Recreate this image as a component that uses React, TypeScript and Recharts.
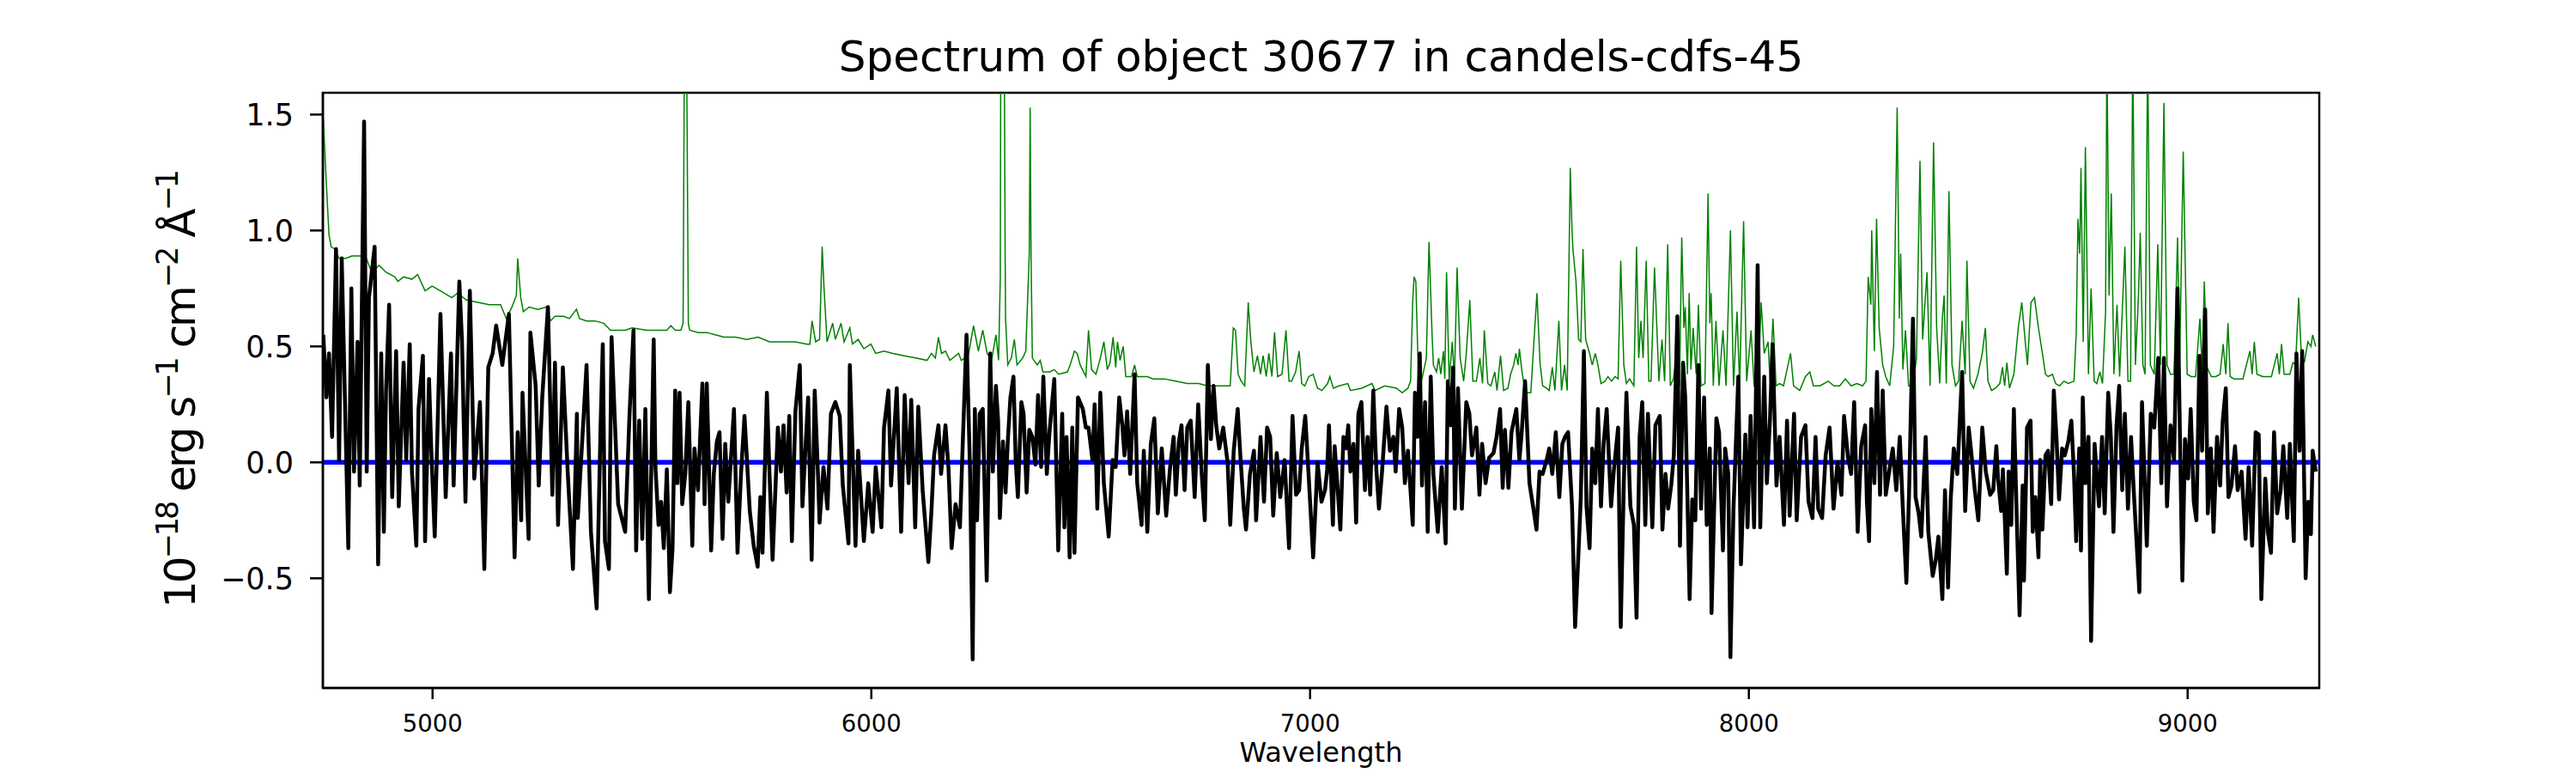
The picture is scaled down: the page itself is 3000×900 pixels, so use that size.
import { LineChart, Line, XAxis, YAxis, ReferenceArea } from "recharts";

type Pt = [number, number];

const FONT = "DejaVu Sans";
const X_MIN = 4750;
const X_MAX = 9300;
const Y_MIN = -0.973;
const Y_MAX = 1.594;
const xTicks = [5000, 6000, 7000, 8000, 9000];
const yTicks = [-0.5, 0, 0.5, 1.0, 1.5];
const zeroLevel = 0;

// object flux (black), wavelength in Å, flux in 1e-18 erg/s/cm2/Å
const fluxA: Pt[] = [
  [4751, 0.55], [4758, 0.28], [4764, 0.47], [4771, 0.11], [4780, 0.92], [4787, 0.01], [4793, 0.88], [4803, 0.05],
  [4808, -0.37], [4815, 0.75], [4821, -0.04], [4829, 0.52], [4834, -0.1], [4839, 0.7], [4844, 1.47], [4850, -0.04],
  [4855, 0.71], [4868, 0.93], [4876, -0.44], [4883, 0.47], [4889, -0.3], [4894, 0.31], [4901, 0.68], [4908, -0.15],
  [4917, 0.48], [4923, -0.19], [4934, 0.43], [4940, 0.01], [4948, 0.51], [4953, -0.04], [4963, -0.36], [4968, 0.23],
  [4978, 0.46], [4983, -0.34], [4992, 0.36], [4997, 0.06], [5005, -0.32], [5018, 0.64], [5030, -0.15], [5042, 0.47],
  [5048, -0.1], [5061, 0.78], [5067, 0.53], [5075, -0.17], [5085, 0.74], [5095, -0.07], [5108, 0.26], [5118, -0.46],
  [5127, 0.41], [5137, 0.47], [5145, 0.59], [5159, 0.42], [5174, 0.64], [5187, -0.41], [5194, 0.13], [5202, -0.25],
  [5205, 0.3], [5219, -0.33], [5223, 0.56], [5235, 0.33], [5242, -0.1], [5250, 0.28], [5263, 0.67], [5273, -0.14],
  [5279, 0.43], [5286, -0.27], [5297, 0.41], [5308, -0.04], [5320, -0.46], [5329, 0.21], [5331, -0.24], [5351, 0.42],
  [5361, -0.3], [5374, -0.63], [5383, 0.16], [5388, 0.51], [5393, -0.34], [5402, -0.46], [5408, 0.54], [5423, -0.18],
  [5439, -0.3], [5449, 0.21], [5458, 0.57], [5464, -0.38], [5471, 0.18], [5478, -0.33], [5485, 0.23], [5493, -0.59],
  [5504, 0.53],
];

const fluxB: Pt[] = [
  [5508, -0.02], [5515, -0.27], [5521, -0.17], [5527, -0.37], [5534, -0.03], [5541, -0.56], [5547, -0.37], [5553, 0.31],
  [5558, -0.09], [5563, 0.3], [5569, -0.18], [5576, -0.05], [5583, 0.26], [5592, -0.36], [5597, 0.06], [5605, -0.12],
  [5615, 0.34], [5620, -0.18], [5625, 0.34], [5635, -0.38], [5641, -0.05], [5648, 0.09], [5654, 0.13], [5661, -0.33],
  [5667, 0.08], [5674, -0.17], [5687, 0.23], [5695, -0.39], [5703, -0.05], [5711, 0.2], [5723, -0.21], [5732, -0.36],
  [5741, -0.45], [5747, -0.15], [5752, -0.39], [5762, 0.3], [5768, -0.05], [5775, -0.42], [5787, 0.15], [5794, -0.04],
  [5800, 0.16], [5807, -0.13], [5813, 0.2], [5819, -0.34], [5827, 0.22], [5837, 0.42], [5843, -0.19], [5856, 0.28],
  [5864, -0.42], [5871, 0.31], [5879, -0.08], [5882, -0.26], [5891, -0.02], [5900, -0.2], [5908, 0.21], [5918, 0.26],
  [5928, 0.2], [5935, -0.1], [5948, -0.35], [5951, 0.42], [5964, -0.36], [5970, 0.05], [5983, -0.34], [5993, -0.09],
  [6003, -0.3], [6010, -0.02], [6023, -0.28], [6029, 0.15], [6039, 0.31], [6045, -0.1], [6058, 0.32], [6068, -0.3],
  [6076, 0.29], [6085, -0.09], [6091, 0.27], [6100, -0.28], [6107, 0.24], [6117, -0.12], [6130, -0.43], [6137, -0.21],
  [6143, 0.03], [6153, 0.16], [6159, -0.05], [6169, 0.16], [6176, -0.03], [6183, -0.37], [6192, -0.18], [6202, -0.28],
  [6208, 0.06], [6217, 0.55], [6225, -0.04], [6231, -0.85], [6236, 0.23], [6241, -0.25], [6247, 0.21], [6254, 0.23],
  [6263, -0.51],
];

const fluxC: Pt[] = [
  [6271, 0.47], [6277, -0.04], [6284, 0.33], [6289, 0.18], [6293, -0.24], [6300, 0.09], [6306, -0.13], [6311, 0.09],
  [6317, 0.28], [6324, 0.37], [6329, 0.01], [6334, -0.15], [6342, 0.26], [6347, 0.21], [6354, -0.13], [6360, 0.14],
  [6367, 0.11], [6374, -0.01], [6380, 0.29], [6387, -0.02], [6392, 0.37], [6400, -0.05], [6406, 0.13], [6417, 0.36],
  [6426, -0.38], [6435, 0.21], [6440, -0.28], [6445, 0.11], [6452, -0.41], [6458, 0.15], [6463, -0.39], [6471, 0.28],
  [6482, 0.23], [6489, 0.15], [6495, 0.15], [6504, 0.01], [6509, 0.25], [6515, -0.2], [6522, 0.3], [6530, -0.09],
  [6541, -0.32], [6550, 0.01], [6557, -0.02], [6565, 0.28], [6572, 0.16], [6577, 0.03], [6583, 0.22], [6590, -0.05],
  [6600, 0.38], [6606, -0.09], [6616, -0.27], [6621, 0.05], [6629, -0.3], [6637, 0.08], [6645, 0.19], [6653, -0.22],
  [6662, 0.06], [6672, -0.23], [6681, -0.02], [6689, 0.11], [6694, -0.14], [6701, 0.09], [6707, 0.16], [6714, -0.12],
  [6720, 0.15], [6728, 0.18], [6737, -0.15], [6745, 0.25], [6753, -0.05], [6760, -0.25], [6767, 0.42], [6774, 0.1],
  [6780, 0.33], [6786, 0.16], [6793, 0.06], [6802, 0.15], [6812, 0.0], [6818, -0.27], [6826, 0.05], [6835, 0.23],
  [6841, 0.03], [6849, -0.2], [6854, -0.29], [6863, -0.05], [6872, 0.05], [6877, -0.25], [6887, 0.11], [6895, -0.17],
  [6902, 0.15], [6909, 0.11], [6916, -0.23], [6924, 0.04], [6932, -0.15], [6942, 0.01], [6952, -0.37], [6960, 0.2],
  [6968, -0.14], [6975, -0.12], [6981, 0.06], [6989, 0.2], [6998, -0.1], [7007, -0.41], [7017, 0.0], [7026, -0.17],
];

const fluxD: Pt[] = [
  [7034, -0.12], [7039, -0.03], [7043, 0.16], [7052, -0.27], [7056, 0.07], [7063, -0.12], [7069, -0.29], [7076, 0.11],
  [7082, 0.06], [7087, 0.16], [7092, -0.04], [7099, 0.08], [7105, -0.26], [7110, 0.21], [7117, 0.26], [7125, -0.12],
  [7131, 0.11], [7137, -0.14], [7144, 0.31], [7151, -0.03], [7157, -0.2], [7164, -0.04], [7174, 0.24], [7182, 0.05],
  [7190, 0.11], [7195, -0.04], [7203, 0.23], [7210, 0.15], [7216, -0.09], [7223, 0.05], [7234, -0.27], [7239, 0.3],
  [7245, 0.11], [7250, 0.47], [7255, -0.1], [7262, 0.26], [7268, -0.3], [7275, 0.37], [7281, -0.05], [7291, -0.3],
  [7300, -0.02], [7309, -0.35], [7314, 0.35], [7320, 0.16], [7326, 0.41], [7330, -0.2], [7337, 0.32], [7346, -0.2],
  [7356, 0.26], [7363, 0.21], [7369, 0.03], [7379, 0.15], [7386, -0.14], [7392, 0.08], [7400, -0.09], [7408, 0.02],
  [7418, 0.04], [7425, 0.11], [7433, 0.23], [7439, -0.11], [7444, 0.14], [7452, -0.11], [7459, 0.13], [7470, 0.23],
  [7477, 0.01], [7482, 0.12], [7490, 0.35], [7500, -0.09], [7509, -0.2], [7516, -0.29], [7523, -0.04], [7530, -0.05],
  [7539, 0.01], [7545, 0.06], [7552, -0.05], [7560, 0.13], [7568, -0.15], [7575, 0.08], [7581, 0.11], [7588, 0.13],
  [7597, -0.19], [7604, -0.71], [7611, -0.42], [7617, -0.15], [7624, 0.48], [7630, -0.19], [7637, -0.37], [7643, 0.06],
  [7650, -0.09], [7656, 0.23], [7663, -0.19], [7669, 0.08], [7676, 0.23], [7686, -0.19], [7692, -0.04], [7702, 0.15],
  [7708, -0.71], [7715, -0.09], [7721, 0.3], [7730, -0.19], [7738, -0.27], [7744, -0.67], [7751, 0.11], [7757, 0.26],
  [7764, -0.27], [7770, 0.21], [7780, -0.28], [7787, 0.16],
];

const fluxE: Pt[] = [
  [7797, 0.2], [7803, -0.29], [7810, -0.05], [7816, -0.2], [7823, -0.1], [7829, 0.03], [7837, 0.63], [7843, -0.36],
  [7850, 0.43], [7855, 0.28], [7865, -0.59], [7871, -0.16], [7878, -0.25], [7885, 0.42], [7891, -0.2], [7898, 0.28],
  [7904, -0.27], [7911, 0.06], [7915, -0.65], [7926, 0.19], [7932, 0.13], [7941, -0.38], [7946, 0.06], [7953, -0.05],
  [7958, -0.84], [7965, -0.2], [7976, 0.37], [7982, -0.44], [7992, 0.12], [7997, -0.28], [8004, 0.2], [8012, -0.28],
  [8020, 0.85], [8026, -0.28], [8035, 0.37], [8041, -0.09], [8048, 0.18], [8054, 0.51], [8063, -0.1], [8070, 0.11],
  [8080, -0.27], [8087, 0.18], [8093, -0.23], [8103, 0.21], [8109, -0.25], [8119, 0.11], [8129, 0.16], [8136, -0.17],
  [8145, -0.24], [8152, 0.11], [8158, -0.2], [8167, -0.24], [8175, 0.03], [8184, 0.15], [8193, -0.2], [8202, 0.0],
  [8211, -0.14], [8217, 0.2], [8226, 0.02], [8233, -0.05], [8240, 0.26], [8248, -0.3], [8256, 0.07], [8265, 0.16],
  [8269, -0.17], [8274, -0.34], [8279, 0.23], [8286, -0.09], [8292, 0.39], [8299, -0.14], [8305, 0.31], [8312, -0.14],
  [8319, -0.05], [8328, 0.06], [8336, -0.12], [8344, 0.11], [8351, -0.2], [8359, -0.52], [8365, -0.14], [8374, 0.62],
  [8380, -0.15], [8387, -0.22], [8393, -0.32], [8403, 0.11], [8409, -0.3], [8419, -0.49], [8426, -0.42], [8432, -0.32],
  [8441, -0.59], [8447, -0.12], [8454, -0.54], [8460, -0.16], [8467, 0.06], [8475, -0.05], [8486, 0.39], [8493, -0.21],
  [8501, 0.15], [8507, 0.04], [8515, -0.12], [8523, -0.25], [8532, 0.15], [8540, -0.04], [8550, -0.14],
];

const fluxF: Pt[] = [
  [8557, -0.12], [8564, 0.07], [8568, -0.07], [8575, -0.21], [8579, -0.03], [8588, -0.48], [8592, -0.04], [8598, -0.27],
  [8604, 0.23], [8611, -0.27], [8617, -0.66], [8624, -0.1], [8627, -0.51], [8634, 0.15], [8642, 0.18], [8647, -0.3],
  [8653, -0.15], [8660, -0.41], [8664, 0.01], [8669, -0.29], [8676, 0.03], [8682, 0.05], [8689, -0.18], [8695, 0.31],
  [8701, 0.11], [8707, -0.16], [8714, 0.06], [8720, 0.03], [8728, 0.09], [8735, 0.18], [8741, -0.05], [8746, -0.34],
  [8753, 0.06], [8757, -0.38], [8761, 0.28], [8767, -0.09], [8774, 0.11], [8780, -0.77], [8788, 0.08], [8798, -0.19],
  [8805, 0.11], [8811, -0.22], [8819, 0.3], [8825, 0.11], [8831, -0.3], [8838, 0.16], [8844, 0.33], [8851, -0.12],
  [8857, 0.21], [8864, -0.2], [8871, 0.11], [8878, -0.15], [8890, -0.56], [8896, 0.26], [8907, -0.36], [8916, 0.21],
  [8924, 0.15], [8933, 0.45], [8940, -0.09], [8946, 0.45], [8953, -0.19], [8961, 0.16], [8969, 0.01], [8977, 0.75],
  [8988, -0.51], [8994, 0.1], [9001, -0.07], [9007, 0.23], [9014, -0.17], [9020, -0.25], [9027, 0.46], [9033, 0.05],
  [9040, 0.66], [9046, -0.22], [9053, 0.06], [9059, -0.3], [9067, 0.11], [9074, -0.1], [9080, 0.18], [9087, 0.32],
  [9093, -0.15], [9100, -0.1], [9108, 0.07], [9114, -0.12], [9123, -0.04], [9132, -0.33], [9139, -0.02], [9147, -0.36],
  [9155, 0.13], [9162, 0.12], [9168, -0.59], [9177, -0.07], [9183, -0.3], [9190, -0.39], [9197, 0.13], [9204, -0.22],
  [9212, -0.12], [9218, 0.07], [9227, -0.24], [9233, 0.08], [9242, -0.34], [9248, 0.47], [9255, 0.05], [9261, 0.48],
  [9269, -0.5], [9275, -0.17], [9281, -0.31], [9285, 0.05], [9292, -0.04],
];

// noise / sky spectrum (green)
const skyA: Pt[] = [
  [4751, 1.48], [4758, 1.2], [4764, 0.98], [4769, 0.93], [4777, 0.92], [4787, 0.88], [4803, 0.88], [4816, 0.89],
  [4836, 0.89], [4849, 0.88], [4859, 0.83], [4868, 0.83], [4878, 0.85], [4894, 0.82], [4914, 0.8], [4921, 0.78],
  [4934, 0.8], [4953, 0.79], [4966, 0.81], [4983, 0.74], [4999, 0.76], [5018, 0.74], [5044, 0.71], [5057, 0.73],
  [5077, 0.7], [5103, 0.69], [5129, 0.68], [5155, 0.68], [5168, 0.62], [5181, 0.67], [5191, 0.72], [5194, 0.88],
  [5201, 0.71], [5207, 0.65], [5220, 0.67], [5240, 0.66], [5260, 0.67], [5269, 0.61], [5279, 0.63], [5299, 0.63],
  [5312, 0.62], [5328, 0.66], [5335, 0.62], [5351, 0.61], [5370, 0.61], [5390, 0.6], [5406, 0.57], [5423, 0.57],
  [5439, 0.57], [5455, 0.58], [5488, 0.57],
];

const skyB: Pt[] = [
  [5501, 0.57], [5521, 0.57], [5534, 0.57], [5543, 0.59], [5553, 0.57], [5566, 0.57], [5571, 0.6], [5574, 1.8],
  [5579, 1.8], [5583, 0.6], [5586, 0.57], [5605, 0.56], [5625, 0.56], [5644, 0.55], [5664, 0.54], [5690, 0.54],
  [5716, 0.53], [5742, 0.54], [5768, 0.52], [5794, 0.52], [5827, 0.52], [5853, 0.51], [5860, 0.51], [5865, 0.61],
  [5873, 0.52], [5882, 0.53], [5888, 0.93], [5892, 0.76], [5899, 0.52], [5912, 0.6], [5918, 0.53], [5931, 0.6],
  [5938, 0.52], [5951, 0.58], [5957, 0.51], [5970, 0.53], [5983, 0.49], [5999, 0.51], [6010, 0.47], [6029, 0.48],
  [6049, 0.47], [6075, 0.46], [6101, 0.45], [6127, 0.44], [6137, 0.47], [6146, 0.45], [6153, 0.54], [6160, 0.47],
  [6169, 0.48], [6179, 0.44], [6199, 0.47], [6205, 0.44], [6221, 0.46], [6233, 0.59], [6244, 0.48], [6254, 0.57],
  [6264, 0.47],
];

const skyC: Pt[] = [
  [6274, 0.44], [6284, 0.55], [6290, 0.44], [6294, 0.8], [6295, 1.8], [6303, 1.8], [6305, 0.9], [6306, 0.62],
  [6311, 0.42], [6319, 0.45], [6326, 0.53], [6332, 0.42], [6345, 0.45], [6352, 0.48], [6360, 0.9], [6362, 1.53],
  [6364, 0.9], [6367, 0.45], [6378, 0.42], [6385, 0.44], [6391, 0.39], [6407, 0.39], [6417, 0.4], [6427, 0.38],
  [6447, 0.39], [6453, 0.42], [6463, 0.48], [6469, 0.47], [6476, 0.42], [6489, 0.37], [6495, 0.57], [6502, 0.4],
  [6512, 0.38], [6522, 0.45], [6530, 0.52], [6538, 0.4], [6544, 0.43], [6551, 0.54], [6557, 0.41], [6561, 0.52],
  [6567, 0.44], [6574, 0.5], [6580, 0.37], [6593, 0.37], [6600, 0.42], [6606, 0.37], [6629, 0.37], [6642, 0.36],
  [6668, 0.36], [6694, 0.35], [6720, 0.34], [6746, 0.34], [6766, 0.33], [6786, 0.33], [6818, 0.33], [6825, 0.58],
  [6830, 0.57], [6836, 0.38], [6843, 0.35], [6851, 0.33], [6859, 0.69], [6865, 0.52], [6872, 0.39], [6880, 0.46],
  [6887, 0.38], [6893, 0.46], [6900, 0.37], [6906, 0.47], [6913, 0.37], [6919, 0.56], [6926, 0.37], [6936, 0.38],
  [6945, 0.57], [6952, 0.35], [6958, 0.35], [6967, 0.39], [6975, 0.48], [6981, 0.34], [6988, 0.33], [6997, 0.37],
  [7007, 0.38], [7017, 0.32], [7027, 0.31],
];

const skyD: Pt[] = [
  [7040, 0.34], [7045, 0.37], [7053, 0.32], [7066, 0.33], [7086, 0.34], [7092, 0.31], [7118, 0.32], [7141, 0.34],
  [7148, 0.31], [7170, 0.33], [7197, 0.32], [7210, 0.3], [7223, 0.32], [7229, 0.35], [7234, 0.7], [7237, 0.8],
  [7241, 0.78], [7245, 0.5], [7247, 0.35], [7255, 0.36], [7265, 0.45], [7271, 0.95], [7278, 0.55], [7281, 0.42],
  [7288, 0.39], [7293, 0.45], [7298, 0.38], [7304, 0.48], [7307, 0.36], [7311, 0.82], [7317, 0.35], [7324, 0.52],
  [7329, 0.36], [7335, 0.84], [7342, 0.45], [7350, 0.35], [7356, 0.47], [7364, 0.7], [7371, 0.35], [7379, 0.35],
  [7387, 0.45], [7393, 0.34], [7397, 0.57], [7405, 0.34], [7412, 0.33], [7421, 0.39], [7426, 0.31], [7434, 0.46],
  [7441, 0.31], [7451, 0.32], [7457, 0.38], [7464, 0.42], [7469, 0.47], [7474, 0.42], [7477, 0.49], [7483, 0.39],
  [7491, 0.3], [7503, 0.3], [7517, 0.73], [7524, 0.43], [7530, 0.33], [7539, 0.32], [7545, 0.31], [7552, 0.41],
  [7558, 0.31], [7567, 0.61], [7573, 0.31], [7580, 0.42], [7586, 0.31], [7593, 1.27], [7597, 1.0], [7599, 0.92],
  [7606, 0.78], [7612, 0.53], [7617, 0.52], [7622, 0.92], [7628, 0.53], [7637, 0.47], [7643, 0.42], [7650, 0.47],
  [7656, 0.42], [7663, 0.34], [7672, 0.35], [7679, 0.37], [7687, 0.35], [7695, 0.37], [7702, 0.36], [7708, 0.87],
  [7715, 0.42], [7721, 0.34], [7728, 0.36], [7738, 0.33], [7744, 0.93], [7749, 0.45], [7754, 0.61], [7759, 0.45],
  [7766, 0.87], [7772, 0.35], [7777, 0.35], [7785, 0.84],
];

const skyE: Pt[] = [
  [7795, 0.35], [7802, 0.53], [7808, 0.35], [7815, 0.94], [7821, 0.33], [7828, 0.36], [7836, 0.47], [7842, 0.33],
  [7847, 0.97], [7852, 0.58], [7855, 0.67], [7860, 0.38], [7864, 0.73], [7868, 0.4], [7873, 0.58], [7880, 0.38],
  [7885, 0.68], [7891, 0.33], [7900, 0.34], [7907, 1.16], [7911, 0.6], [7914, 0.73], [7919, 0.33], [7925, 0.61],
  [7932, 0.33], [7941, 0.57], [7948, 0.33], [7958, 1.0], [7965, 0.33], [7973, 0.65], [7979, 0.33], [7988, 1.04],
  [7995, 0.35], [8005, 0.57], [8012, 0.33], [8021, 0.33], [8028, 0.69], [8035, 0.47], [8044, 0.52], [8048, 0.35],
  [8055, 0.62], [8062, 0.33], [8070, 0.34], [8079, 0.33], [8087, 0.4], [8095, 0.47], [8102, 0.33], [8116, 0.31],
  [8129, 0.37], [8139, 0.39], [8147, 0.33], [8162, 0.33], [8181, 0.35], [8194, 0.33], [8207, 0.33], [8220, 0.36],
  [8233, 0.33], [8246, 0.34], [8259, 0.33], [8267, 0.35], [8272, 0.8], [8278, 0.68], [8280, 1.0], [8286, 0.48],
  [8291, 1.05], [8297, 0.58], [8305, 0.42], [8312, 0.37], [8321, 0.33], [8330, 0.5], [8338, 1.53], [8343, 0.62],
  [8346, 0.9], [8351, 0.4], [8357, 0.57], [8364, 0.33], [8374, 0.33], [8382, 0.45], [8390, 1.3], [8396, 0.53],
  [8406, 0.82], [8413, 0.33], [8421, 1.38], [8428, 0.58], [8435, 0.34], [8441, 0.62], [8445, 0.72], [8450, 0.34],
  [8456, 1.17], [8463, 0.42], [8471, 0.33], [8478, 0.35], [8486, 0.61], [8493, 0.38], [8497, 0.87], [8504, 0.35],
  [8512, 0.32], [8522, 0.38], [8532, 0.47], [8539, 0.58], [8545, 0.35], [8553, 0.31],
];

const skyF: Pt[] = [
  [8562, 0.32], [8572, 0.34], [8578, 0.41], [8583, 0.33], [8588, 0.43], [8594, 0.32], [8604, 0.38], [8614, 0.58],
  [8622, 0.69], [8630, 0.52], [8635, 0.42], [8643, 0.69], [8651, 0.71], [8660, 0.58], [8669, 0.47], [8676, 0.38],
  [8682, 0.37], [8692, 0.38], [8699, 0.34], [8708, 0.33], [8718, 0.35], [8728, 0.34], [8741, 0.35], [8746, 0.55],
  [8750, 1.05], [8754, 0.9], [8757, 1.27], [8762, 0.52], [8767, 1.36], [8774, 0.38], [8780, 0.75], [8787, 0.35],
  [8793, 0.34], [8800, 0.39], [8806, 0.34], [8813, 0.65], [8816, 1.8], [8821, 0.72], [8826, 1.16], [8832, 0.38],
  [8839, 0.68], [8845, 0.37], [8857, 0.93], [8864, 0.35], [8870, 0.35], [8875, 1.8], [8881, 0.42], [8888, 0.72],
  [8892, 0.99], [8898, 0.42], [8903, 0.38], [8909, 1.8], [8915, 0.42], [8924, 0.38], [8932, 0.94], [8938, 0.42],
  [8946, 1.55], [8953, 0.42], [8961, 0.38], [8969, 0.38], [8977, 0.97], [8982, 0.45], [8990, 1.34], [8999, 0.38],
  [9008, 0.37], [9018, 0.37], [9028, 0.62], [9033, 0.4], [9038, 0.78], [9044, 0.41], [9054, 0.37], [9064, 0.37],
  [9074, 0.38], [9081, 0.51], [9087, 0.38], [9092, 0.6], [9097, 0.37], [9106, 0.36], [9126, 0.36], [9142, 0.48],
  [9147, 0.38], [9152, 0.52], [9158, 0.38], [9171, 0.37], [9191, 0.37], [9204, 0.47], [9209, 0.38], [9214, 0.51],
  [9220, 0.38], [9233, 0.38], [9240, 0.43], [9246, 0.42], [9253, 0.71], [9259, 0.47], [9266, 0.43], [9274, 0.52],
  [9281, 0.5], [9285, 0.55], [9292, 0.5],
];

const toRows = (pts: Pt[]) => pts.map(([w, f]) => ({ w, f }));

const fluxData = toRows([...fluxA, ...fluxB, ...fluxC, ...fluxD, ...fluxE, ...fluxF]);
const skyData = toRows([...skyA, ...skyB, ...skyC, ...skyD, ...skyE, ...skyF]);
const zeroData = [
  { w: X_MIN, f: zeroLevel },
  { w: X_MAX, f: zeroLevel },
];

const fmtY = (v: number) => (v < 0 ? "\u2212" : "") + Math.abs(v).toFixed(1);

const axisStroke = { stroke: "#000", strokeWidth: 2.5 };

export default function App() {
  return (
    <div style={{ position: "absolute", left: 0, top: 0, width: 3000, height: 900, background: "#fff" }}>
      <LineChart width={3000} height={900} margin={{ top: 108, right: 299, bottom: 0, left: 0 }}>
        <XAxis
          dataKey="w"
          type="number"
          domain={[X_MIN, X_MAX]}
          ticks={xTicks}
          allowDataOverflow
          height={99}
          tickSize={13}
          tickMargin={18}
          axisLine={axisStroke}
          tickLine={axisStroke}
          tick={{ fontSize: 27.5, fill: "#000", fontFamily: FONT }}
        />
        <YAxis
          type="number"
          domain={[Y_MIN, Y_MAX]}
          ticks={yTicks}
          allowDataOverflow
          width={376}
          tickSize={15}
          tickMargin={19}
          axisLine={axisStroke}
          tickLine={axisStroke}
          tickFormatter={fmtY}
          tick={{ fontSize: 35, fill: "#000", fontFamily: FONT }}
        />
        <Line
          data={skyData}
          dataKey="f"
          type="linear"
          stroke="#008000"
          strokeWidth={1.5}
          dot={false}
          activeDot={false}
          isAnimationActive={false}
        />
        <Line
          data={zeroData}
          dataKey="f"
          type="linear"
          stroke="#0000ff"
          strokeWidth={5.5}
          dot={false}
          activeDot={false}
          isAnimationActive={false}
        />
        <Line
          data={fluxData}
          dataKey="f"
          type="linear"
          stroke="#000"
          strokeWidth={4.5}
          strokeLinejoin="round"
          dot={false}
          activeDot={false}
          isAnimationActive={false}
        />
        <ReferenceArea x1={X_MIN} x2={X_MAX} y1={Y_MIN} y2={Y_MAX} fill="none" fillOpacity={0} stroke="#000" strokeWidth={2.5} />
      </LineChart>
      <svg
        width={3000}
        height={900}
        style={{ position: "absolute", left: 0, top: 0, pointerEvents: "none" }}
        fontFamily={FONT}
      >
        <text x={1538.5} y={83} textAnchor="middle" fontSize={50} fill="#000">
          Spectrum of object 30677 in candels-cdfs-45
        </text>
        <text x={1538.5} y={887} textAnchor="middle" fontSize={32} fill="#000">
          Wavelength
        </text>
        <text
          x={227}
          y={452.5}
          transform="rotate(-90 227 452.5)"
          textAnchor="middle"
          fontSize={50}
          fill="#000"
          textLength={511}
          lengthAdjust="spacing"
        >
          10
          <tspan dy={-20} fontSize={35}>{"\u221218"}</tspan>
          <tspan dy={20}>{" erg s"}</tspan>
          <tspan dy={-20} fontSize={35}>{"\u22121"}</tspan>
          <tspan dy={20}>{" cm"}</tspan>
          <tspan dy={-20} fontSize={35}>{"\u22122"}</tspan>
          <tspan dy={20}>{" \u00c5"}</tspan>
          <tspan dy={-20} fontSize={35}>{"\u22121"}</tspan>
        </text>
      </svg>
    </div>
  );
}
